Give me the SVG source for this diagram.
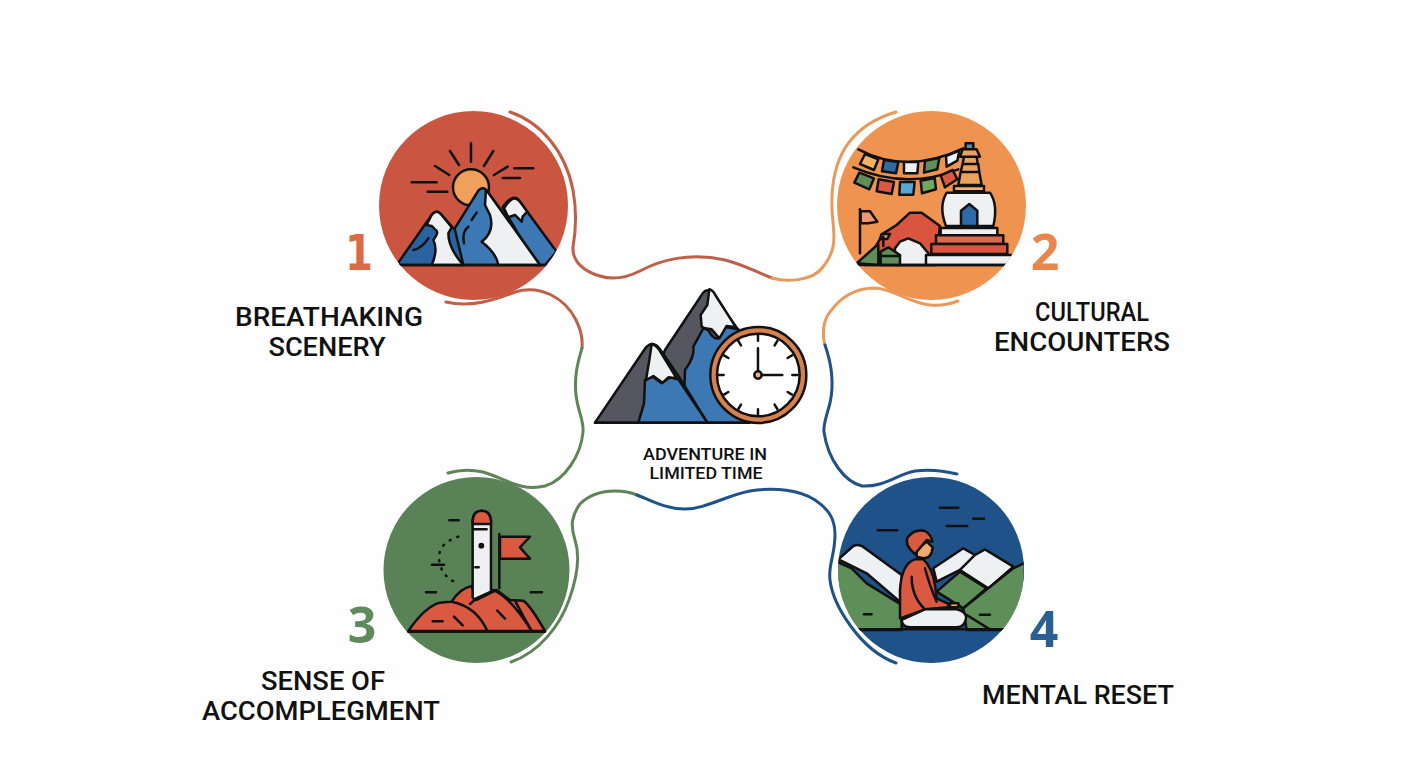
<svg xmlns="http://www.w3.org/2000/svg" width="1408" height="768" viewBox="0 0 1408 768">
<style>
.lab{font-family:Roboto,"Liberation Sans",sans-serif;font-weight:500;font-size:25px;fill:#111;text-anchor:middle}
.cen{font-size:16px}
.num{font-family:"Open Sans","Liberation Sans",sans-serif;font-weight:700;font-size:50px;text-anchor:middle}
.one{font-family:"DejaVu Sans",sans-serif;font-size:49px}
.c{fill:none;stroke-width:3;stroke-linecap:round}
.ic *{stroke:#111;stroke-width:7.5;stroke-linejoin:round;stroke-linecap:round}
.nl{fill:none}
.sn{fill:#EEF0F2}.bl{fill:#3B78B4}.db{fill:#2A63A0}.rd{fill:#D95A40}.gr{fill:#5F8F58}
</style>
<defs>
<clipPath id="k1"><circle cx="400" cy="347" r="283"/></clipPath>
<clipPath id="k2"><circle cx="394" cy="347" r="283"/></clipPath>
<clipPath id="k4"><circle cx="363" cy="331" r="279"/></clipPath>
</defs>
<rect width="1408" height="768" fill="#FEFEFE"/>
<g id="connectors">
<path class="c" stroke="#BE5F48" d="M510,112C540,122 565,150 573,190C577,212 576,230 573,247C572,262 585,272 600,276C615,281 628,277 640,271C660,260 690,252 725,260C745,265 758,273 772,278"/>
<path class="c" stroke="#E89A5C" d="M772,278C785,282 812,282 823,267C835,252 835,240 833,222C830,195 832,170 845,148C858,128 875,118 896,112"/>
<path class="c" stroke="#BE5F48" d="M446,302C470,308 495,300 515,292C540,284 565,298 576,320C581,330 583,338 582,348"/>
<path class="c" stroke="#5E8458" d="M582,348C578,362 574,375 576,395C578,412 584,420 583,432C581,455 565,480 545,486C520,492 505,478 483,472C470,469 458,470 448,473"/>
<path class="c" stroke="#E89A5C" d="M825,345C822,335 823,320 830,312C840,298 855,288 875,288C895,289 908,303 930,305C940,306 950,304 958,301"/>
<path class="c" stroke="#1F5288" d="M825,345C832,365 834,385 830,403C826,418 823,425 824,432C828,460 845,482 862,486C885,487 895,475 915,471C930,469 945,471 957,474"/>
<path class="c" stroke="#5E8458" d="M511,662C540,652 560,625 569,600C578,575 580,555 575,540C570,525 572,515 580,504C590,494 603,491 615,491C623,491 630,492 637,495"/>
<path class="c" stroke="#1F5288" d="M637,495C650,500 665,509 685,509C705,509 725,496 750,491C775,487 800,490 815,500C830,510 835,520 835,535C835,555 828,565 830,580C833,605 860,650 896,663"/>
</g>
<g id="node1">
<circle cx="473.5" cy="205.5" r="94.5" fill="#CA5540"/>
<g class="ic" transform="translate(340 90) scale(.3333)" clip-path="url(#k1)">
<circle cx="393" cy="292" r="54" fill="#F0A05A"/>
<path class="nl" d="M393,160V215M330,183L357,225M460,183L432,228M285,228L328,255M503,230L462,255M523,235H580M488,264H540M215,277H290M263,305H322"/>
<path class="bl" d="M488,352Q520,305 540,335L650,485L615,525H590Z"/>
<path class="sn" d="M492,355Q520,308 540,335L562,365L548,380L545,395L525,375L505,382Z"/>
<path class="bl" d="M335,430L415,302Q430,285 445,308L600,525H370Q345,480 335,430Z"/>
<path class="sn" d="M438,300L445,308L600,525H475Q470,490 425,455Q465,425 450,375L435,345Z"/>
<path class="db" d="M175,518L275,375Q290,355 305,375L345,420L370,525H175Z"/>
<path class="sn" d="M260,405L275,375Q290,355 305,375L335,412L325,430Q325,475 370,525H275Q295,480 280,450Q300,425 285,418L275,408Z"/>
<path class="nl" d="M220,480Q245,475 265,445M410,368L395,390M385,410Q365,425 372,460"/>
<path class="nl" d="M175,525H620"/>
</g>
</g>
<g id="node2">
<circle cx="931.5" cy="205.5" r="94.5" fill="#EE9350"/>
<g class="ic" transform="translate(800 90) scale(.3333)" clip-path="url(#k2)">
<path class="nl" d="M175,178Q320,255 490,175M160,232Q320,300 475,238"/>
<path fill="#F2B45E" d="M195,192L235,208L222,240L180,222Z"/>
<path fill="#2F6AA0" d="M252,210L295,216L288,250L246,244Z"/>
<path class="sn" d="M312,216H355L352,250H312Z"/>
<path class="gr" d="M375,212L418,204L412,238L372,248Z"/>
<path class="sn" d="M438,198L478,182L472,212L440,230Z"/>
<path class="gr" d="M178,248L222,265L208,298L163,278Z"/>
<path class="rd" d="M236,268L282,276L275,312L230,304Z"/>
<path fill="#58A6D3" d="M300,276H344L340,314H298Z"/>
<path fill="#6FA85F" d="M362,272L404,264L408,298L366,310Z"/>
<path class="rd" d="M422,256L458,240L472,268L435,292Z"/>
<path fill="#5C8AA8" d="M497,160H520V178H497Z"/>
<path fill="#EDA15F" d="M488,178H530L540,200H480ZM492,200H530L533,222H488ZM488,222H535L538,246H482ZM482,246H538L545,285H475Z"/>
<path fill="#F2B06C" d="M462,288H552V304H462Z"/>
<path class="sn" d="M440,308H570Q595,345 580,408H438Q415,350 440,308Z"/>
<path fill="#2F6AA8" d="M483,408V362L508,342L532,362V408Z"/>
<path fill="#D9553E" d="M195,525L250,430L290,405L330,368H365L420,408L405,525Z"/>
<path class="sn" d="M285,525V475L300,455L325,445L360,460L385,490L378,525Z"/>
<path fill="#E89858" d="M245,432H270L262,447H240Z"/>
<path class="nl" d="M180,490V358"/>
<path fill="#EE9A70" d="M182,364H210L232,395L205,400H182Z"/>
<path class="gr" d="M170,520L235,462V525ZM242,498V485L265,472L300,495V525H242Z"/>
<path class="nl" d="M242,498H300M250,440V468"/>
<path class="sn" d="M422,414H592V436H422Z"/>
<path fill="#DD6A50" d="M408,436H610V462H408Z"/>
<path fill="#D9553E" d="M394,462H622V492H394Z"/>
<path class="sn" d="M378,495H640V525H378Z"/>
<path class="nl" d="M170,525H640"/>
</g>
</g>
<g id="center">
<g class="ic" transform="translate(570 270) scale(.3333)">
<path fill="#55565F" d="M285,240L398,70Q415,50 430,75L505,180L520,458H205Z"/>
<path class="bl" d="M400,175L415,180Q430,210 445,205L462,170L505,178L540,458H340L345,300Q375,260 370,230Z"/>
<path class="sn" d="M418,58Q428,60 436,75L498,172L470,168L448,205L425,178L405,175L395,170L392,135L412,105Z"/>
<path fill="#55565F" d="M75,458L228,232Q248,210 268,235L330,325L412,458Z"/>
<path class="bl" d="M225,330L248,320L275,340L300,322L325,328L412,458H205L222,400Z"/>
<path class="sn" d="M245,222Q258,225 268,240L320,325L295,322L278,338L250,318L228,330L238,270Z"/>
<path class="nl" d="M75,458H530"/>
<circle cx="565" cy="315" r="144" fill="#D9814C"/>
<circle cx="565" cy="315" r="124" fill="#fff"/>
<path class="nl" d="M564,196V212M564,418V434M445,315H461M667,315H683M505,213L513,226M622,213L614,226M462,256L475,264M666,256L653,264M462,374L475,366M666,374L653,366M505,417L513,404M622,417L614,404"/>
<path class="nl" d="M564,235V305M574,315H637"/>
<circle cx="564" cy="315" r="11" fill="#E8B08A"/>
</g>
<text class="lab cen" x="705" y="460" textLength="124" lengthAdjust="spacingAndGlyphs">ADVENTURE IN</text>
<text class="lab cen" x="706" y="479" textLength="113" lengthAdjust="spacingAndGlyphs">LIMITED TIME</text>
</g>
<g id="node3">
<circle cx="476.5" cy="570" r="93" fill="#5A8257"/>
<g class="ic" transform="translate(350 460) scale(.3333)">
<path class="rd" d="M305,425Q330,385 365,378L380,420L440,390L480,420L520,422Q540,435 585,513H175Q225,440 270,428Q290,425 305,425Z"/>
<path class="nl" d="M305,425Q380,440 412,513M360,432Q400,395 430,390Q480,410 545,513M495,422Q520,470 545,513"/>
<path class="sn" d="M368,412V180Q370,152 395,152Q420,152 423,180V395L372,418Z"/>
<path class="rd" d="M368,192V182Q370,152 395,152Q420,152 423,182V192Z"/>
<path class="nl" d="M372,208H410M376,322H386"/>
<circle cx="394" cy="257" r="5" fill="#111"/>
<path class="nl" d="M448,222V385"/>
<path class="rd" d="M450,230H540L510,262L540,296H450Z"/>
<path class="nl" d="M298,181H326M246,314H282M228,397H258M542,397H576M248,484H278M312,470L338,496M442,452L465,476"/>
<path class="nl" stroke-dasharray="3 22" d="M325,230Q250,255 272,320Q285,355 320,368"/>
<path class="nl" d="M175,515H585"/>
</g>
</g>
<g id="node4">
<circle cx="931" cy="570" r="93" fill="#1F5288"/>
<g class="ic" transform="translate(810 460) scale(.3333)" clip-path="url(#k4)">
<path class="sn" d="M370,325L460,265L495,285L525,268L610,320L535,385L450,330L380,365Z"/>
<path class="nl" d="M450,330L495,285"/>
<path class="sn" d="M85,298L130,258Q150,250 165,265L275,345V430L170,340L110,310Z"/>
<path class="gr" d="M80,305L125,325L170,370L275,435V510H80Z"/>
<path class="gr" d="M380,395L450,335L530,385L460,445Z"/>
<path class="gr" d="M460,445L535,385L610,325L645,308V510H470Z"/>
<path class="nl" d="M470,465L540,508"/>
<path class="rd" d="M270,475V390Q275,310 315,298H340Q365,320 375,375L380,415L415,432V442L345,448Z"/>
<path class="nl" d="M305,350Q305,410 345,448M345,325Q360,380 380,425"/>
<path class="sn" d="M275,480L345,448H440Q470,455 468,475Q465,500 440,502H300Q275,500 275,480Z"/>
<path fill="#F2A970" d="M320,290V270L350,245L368,262Q365,295 340,295Z"/>
<path class="rd" d="M315,282Q282,255 293,232Q315,205 345,213Q365,225 367,245L350,240Z"/>
<path fill="#EFB070" d="M420,430H445V442H420Z"/>
<path class="nl" d="M390,143H445M490,176H522M410,198H472M203,211H262M162,463H185M510,464H540"/>
<path class="nl" d="M150,508H580"/>
</g>
</g>
<g id="labels">
<text class="num one" x="359" y="270" fill="#DB6B47" textLength="28" lengthAdjust="spacingAndGlyphs">1</text>
<text class="num" x="1045" y="270" fill="#E8864D">2</text>
<text class="num" x="362" y="643" fill="#5E8A5C">3</text>
<text class="num" x="1044" y="647" fill="#2A5F92">4</text>
<text class="lab" x="329" y="326" textLength="188" lengthAdjust="spacingAndGlyphs">BREATHAKING</text>
<text class="lab" x="327" y="356" textLength="117" lengthAdjust="spacingAndGlyphs">SCENERY</text>
<text class="lab" x="1092" y="321" textLength="114" lengthAdjust="spacingAndGlyphs">CULTURAL</text>
<text class="lab" x="1082" y="351" textLength="176" lengthAdjust="spacingAndGlyphs">ENCOUNTERS</text>
<text class="lab" x="323" y="690" textLength="124" lengthAdjust="spacingAndGlyphs">SENSE OF</text>
<text class="lab" x="321" y="720" textLength="238" lengthAdjust="spacingAndGlyphs">ACCOMPLEGMENT</text>
<text class="lab" x="1078" y="704" textLength="192" lengthAdjust="spacingAndGlyphs">MENTAL RESET</text>
</g>
</svg>
